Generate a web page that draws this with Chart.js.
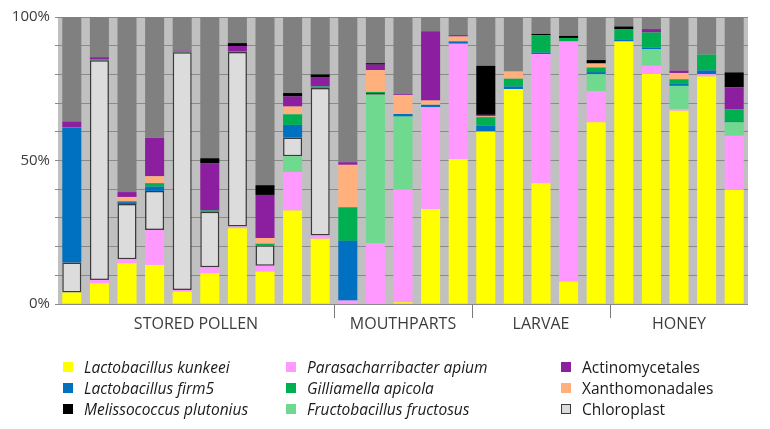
<!DOCTYPE html>
<html><head><meta charset="utf-8">
<script src="https://cdn.jsdelivr.net/npm/chart.js@4.4.1/dist/chart.umd.min.js"></script>
<style>
html,body{margin:0;padding:0;background:#fff;}
#wrap{position:relative;width:770px;height:429px;}
#legend{position:absolute;left:0;top:0;width:770px;height:429px;pointer-events:none;font-family:"Open Sans",sans-serif;font-size:15.5px;color:#1a1a1a;}
.li{position:absolute;display:flex;align-items:center;white-space:nowrap;}
.sw{width:10px;height:10px;margin-right:11px;box-sizing:border-box;}
</style></head>
<body><div id="wrap"><canvas id="c" width="770" height="429"></canvas><div id="legend"></div></div>
<script>
const samples = ["SP1","SP2","SP3","SP4","SP5","SP6","SP7","SP8","SP9","SP10","M1","M2","M3","M4","M5","L1","L2","L3","L4","L5","H1","H2","H3","H4","H5"];
const groups = ["STORED POLLEN","MOUTHPARTS","LARVAE","HONEY"];
const groupSizes = [10,5,5,5];
const yTickLabels = {0:"0%",50:"50%",100:"100%"};

const kunkeei = [4.0,7.2,14.2,13.6,4.3,10.7,26.4,11.3,32.6,22.7, 0,0,0.6,33.1,50.5, 60.1,74.9,42.1,7.8,63.3, 91.5,80.1,67.3,79.3,39.8];
const parasac = [0,1.2,1.4,12.2,0.6,2.1,0.6,2.0,13.4,1.2, 1.2,21.2,39.4,35.5,40.2, 0,0,45.0,83.7,10.8, 0,2.9,0.6,0.8,18.8];
const fructo  = [0,0,0,0,0,0,0,0,5.5,0, 0,51.7,25.3,0,0, 0,0,0,0,6.0, 0,5.8,8.1,0,4.7];
const chloro  = [10.5,76.5,19.2,13.6,82.8,19.3,60.8,7.2,6.5,51.4, 0,0.6,0,0,0, 0,0,0,0,0, 0,0,0,0,0];
const firm5   = [46.8,0,0.7,1.5,0,0,0,0,4.4,0, 20.8,0,0.9,0.8,0.8, 2.0,0.9,0.5,0,0.7, 0.5,0.5,0.7,1.3,0.4];
const gill    = [0.3,0.3,0.3,1.2,0.3,0.5,0.3,0.5,3.7,0.5, 11.7,0.4,0,0,0, 3.0,2.7,6.1,1.2,1.6, 3.8,5.3,1.6,5.5,4.1];
const xantho  = [0,0,1.5,2.4,0,0,0,2.0,2.7,0, 14.8,7.6,6.6,1.5,1.7, 0.3,2.5,0,0,1.4, 0,0,2.2,0,0];
const actino  = [2.0,0.8,1.7,13.4,0.3,16.5,1.8,15.0,3.5,3.3, 0.9,1.9,0.3,24.1,0.5, 0.5,0,0,0,0, 0,1.2,0.8,0,7.7];
const meliss  = [0,0,0,0,0,1.7,1.0,3.4,1.2,0.9, 0,0.5,0,0,0, 17.1,0,0.4,0.7,1.2, 0.9,0,0,0,5.2];
const other   = [36.4,14.0,61.0,42.1,11.7,49.2,9.1,58.6,26.5,20.0, 50.6,16.1,26.9,5.0,6.3, 17.0,19.0,5.9,6.6,15.0, 3.3,4.2,18.7,13.1,19.3];

const series = [
  {key:"kunkeei", label:"Lactobacillus kunkeei", data:kunkeei, color:"#ffff00", italic:true},
  {key:"parasac", label:"Parasacharribacter apium", data:parasac, color:"#ff99ff", italic:true},
  {key:"fructo", label:"Fructobacillus fructosus", data:fructo, color:"#6fd98f", italic:true},
  {key:"chloro", label:"Chloroplast", data:chloro, color:"#dcdcdc", border:true},
  {key:"firm5", label:"Lactobacillus firm5", data:firm5, color:"#0070c0", italic:true},
  {key:"gill", label:"Gilliamella apicola", data:gill, color:"#00b050", italic:true},
  {key:"xantho", label:"Xanthomonadales", data:xantho, color:"#ffb07c"},
  {key:"actino", label:"Actinomycetales", data:actino, color:"#8c1fa0"},
  {key:"meliss", label:"Melissococcus plutonius", data:meliss, color:"#000000", italic:true},
  {key:"other", label:"Other", data:other, color:"#808080", noLegend:true}
];

const datasets = series.map(s => ({
  label: s.label, data: s.data, backgroundColor: s.color,
  borderColor: s.border ? "#3a3a3a" : s.color,
  borderWidth: s.border ? 1.5 : 0,
  borderSkipped: false,
  barPercentage: 0.69, categoryPercentage: 1.0
}));

const bgPlugin = {
  id: "bg",
  beforeDraw(chart) {
    const {ctx, chartArea: a} = chart;
    ctx.save(); ctx.fillStyle = "#c0c0c0";
    ctx.fillRect(a.left, a.top, a.right - a.left, a.bottom - a.top);
    ctx.restore();
  },
  afterDraw(chart) {
    const {ctx, chartArea: a} = chart;
    const xs = chart.scales.x;
    ctx.save();
    ctx.strokeStyle = "#7a7a7a"; ctx.lineWidth = 1;
    ctx.fillStyle = "#3c3c3c";
    ctx.font = '16px "Open Sans", sans-serif';
    ctx.textAlign = "center"; ctx.textBaseline = "middle";
    let start = 0;
    groups.forEach((g, i) => {
      const end = start + groupSizes[i] - 1;
      const cx = (xs.getPixelForValue(start) + xs.getPixelForValue(end)) / 2;
      ctx.fillText(g, cx, 324);
      if (i > 0) {
        const sx = Math.round((xs.getPixelForValue(start - 1) + xs.getPixelForValue(start)) / 2) + 0.5;
        ctx.beginPath(); ctx.moveTo(sx, a.bottom + 1); ctx.lineTo(sx, a.bottom + 14); ctx.stroke();
      }
      start = end + 1;
    });
    ctx.restore();
  }
};

new Chart(document.getElementById("c"), {
  type: "bar",
  data: { labels: samples, datasets },
  options: {
    responsive: false, animation: false,
    layout: { padding: { top: 17, right: 22, left: 0, bottom: 0 } },
    plugins: { legend: { display: false }, tooltip: { enabled: false } },
    scales: {
      x: {
        stacked: true, offset: true,
        grid: { display: false }, border: { display: false },
        ticks: { display: false },
        afterFit(s) { s.height = 125; }
      },
      y: {
        stacked: true, min: 0, max: 100,
        border: { display: false },
        grid: { color: "#8a8a8a", lineWidth: 1, tickLength: 3, drawTicks: true },
        ticks: {
          stepSize: 10, autoSkip: false, padding: 5,
          color: "#3c3c3c", font: { family: '"Open Sans", sans-serif', size: 15 },
          callback: v => yTickLabels[v] !== undefined ? yTickLabels[v] : ""
        },
        afterFit(s) { s.width = 58; }
      }
    }
  },
  plugins: [bgPlugin]
});

// HTML legend, three columns
const legendCols = [["kunkeei","firm5","meliss"],["parasac","gill","fructo"],["actino","xantho","chloro"]];
const colX = [63, 286, 561];
const rowY = [367, 388, 409];
const leg = document.getElementById("legend");
legendCols.forEach((col, ci) => col.forEach((k, ri) => {
  const s = series.find(d => d.key === k);
  const el = document.createElement("div");
  el.className = "li";
  el.style.left = colX[ci] + "px";
  el.style.top = (rowY[ri] - 11) + "px";
  el.style.height = "22px";
  const sw = document.createElement("span");
  sw.className = "sw";
  sw.style.background = s.color;
  if (s.border) sw.style.border = "1px solid #3a3a3a";
  const t = document.createElement("span");
  t.textContent = s.label;
  if (s.italic) t.style.fontStyle = "italic";
  el.appendChild(sw); el.appendChild(t);
  leg.appendChild(el);
}));
</script></body></html>
